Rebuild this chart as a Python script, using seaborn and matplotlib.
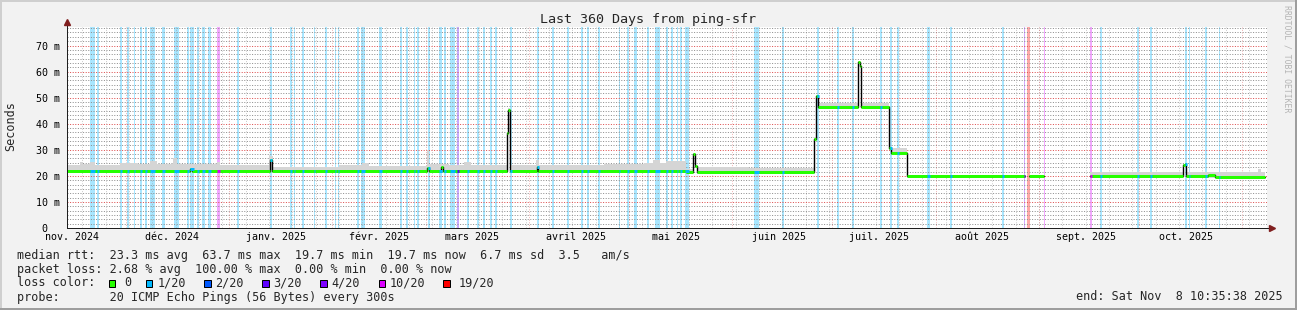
import numpy as np
import pandas as pd
import matplotlib
matplotlib.use("Agg")
import matplotlib.pyplot as plt
from matplotlib.patches import Rectangle
import seaborn as sns
from datetime import datetime, timedelta

sns.set_theme(style="white")
plt.rcParams["font.family"] = ["DejaVu Sans Mono", "DejaVu Sans"]

nan = float("nan")

# ---------------- data ----------------
START = datetime(2024, 11, 13, 10, 35, 38)
SPAN_DAYS = 360.0

# median RTT (ms), step series: value holds from day[i] to day[i+1]; nan = no data
med_day = [0.0, 36.9, 37.35, 60.9, 61.5, 108.0, 108.45, 112.2, 112.65,
           131.85, 132.3, 132.9, 140.85, 141.3, 185.7, 187.9, 188.4, 188.9,
           224.2, 224.7, 225.3, 237.3, 237.75, 238.2, 246.7, 247.2, 251.9,
           287.45, 288.45, 293.1, 306.9, 334.9, 335.25, 335.55, 342.3, 344.4, 359.4]
med_ms = [22.0, 22.8, 22.0, 26.0, 22.0, 23.0, 22.0, 23.3, 22.0,
          36.6, 45.4, 22.0, 23.5, 22.0, 21.4, 28.3, 23.8, 21.5,
          34.3, 50.5, 46.5, 63.7, 62.0, 46.5, 30.5, 28.8, 19.9,
          nan, 19.9, nan, 20.0, 24.1, 24.5, 20.0, 20.3, 19.7, 19.7]

# smoke (ping spread) envelope, step series
smoke_day = [0.0, 3.9, 4.8, 6.9, 8.4, 15.9, 21.0, 24.9, 27.0, 31.8, 33.0, 45.0, 45.9,
             51.9, 60.6, 61.8, 81.6, 88.5, 90.6, 108.0, 108.6, 114.6, 119.1, 121.2,
             131.4, 131.85, 132.3, 132.9, 140.7, 141.6, 149.1, 161.1, 173.1, 175.8,
             177.9, 179.7, 185.7, 187.9, 188.4, 188.9, 204.6, 224.2, 224.7, 225.3,
             237.3, 237.75, 238.2, 246.7, 247.2, 251.9, 287.45, 288.45, 293.1, 306.9,
             334.9, 335.55, 357.3, 358.2, 359.4]
smoke_hi = [24.1, 25.3, 24.4, 25.4, 24.3, 24.8, 24.4, 25.6, 24.4, 26.9, 24.5, 25.2, 24.3,
            24.1, 27.8, 23.5, 24.1, 24.8, 23.8, 29.8, 24.5, 24.1, 25.4, 24.1,
            24.0, 37.0, 46.0, 24.0, 26.0, 24.1, 24.3, 24.6, 25.0, 26.0,
            25.0, 25.8, 22.8, 28.8, 24.3, 23.5, 23.0, 34.8, 51.0, 47.9,
            64.2, 62.5, 47.9, 31.0, 30.5, 21.2, nan, 21.2, nan, 21.3,
            24.6, 21.3, 22.8, 21.3, 21.3]
smoke_lo = [21.4, 21.4, 21.4, 21.4, 21.4, 21.4, 21.4, 21.4, 21.4, 21.4, 21.4, 21.4, 21.4,
            21.4, 21.4, 21.4, 21.4, 21.4, 21.4, 21.4, 21.4, 21.4, 21.4, 21.4,
            21.4, 36.0, 44.5, 21.4, 21.4, 21.4, 21.4, 21.4, 21.4, 21.4,
            21.4, 21.4, 20.9, 27.6, 23.2, 20.9, 20.9, 33.8, 50.0, 46.0,
            63.0, 61.5, 46.0, 30.0, 28.2, 18.8, nan, 18.8, nan, 19.1,
            23.8, 19.1, 19.1, 19.1, 19.1]

# loss levels
loss_labels = ["0", "1/20", "2/20", "3/20", "4/20", "10/20", "19/20"]
loss_colors = ["#26ff00", "#00b8ff", "#0059ff", "#5e00ff", "#7e00ff", "#dd00ff", "#ff0000"]

# packet-loss background bands: start day, end day, loss level index
band_start = [6.9, 9.0, 15.9, 18.0, 20.1, 21.9, 23.4, 24.9, 28.5, 32.1, 36.0, 36.9, 39.0,
              40.5, 42.3, 45.0, 51.0, 60.9, 66.9, 68.1, 70.5, 74.1, 77.4, 80.25, 81.15,
              87.0, 88.2, 93.6, 99.9, 101.7, 104.1, 105.0, 108.3, 111.6, 113.1, 114.9,
              117.0, 120.0, 123.0, 124.8, 126.9, 128.4, 132.9, 141.0, 145.5, 150.0,
              154.2, 156.0, 159.3, 165.6, 168.0, 170.1, 174.0, 176.4, 179.7, 181.2,
              183.0, 183.9, 185.4, 206.1, 214.5, 225.0, 231.0, 235.5, 243.9, 246.9,
              249.0, 258.0, 264.9, 280.5, 287.1, 288.0, 293.1, 306.9, 309.9, 321.0,
              324.9, 335.4, 336.6, 341.4, 345.6]
band_end = [8.4, 9.6, 16.5, 18.6, 20.4, 22.5, 24.0, 26.4, 29.4, 33.6, 36.6, 38.1, 39.6,
            41.4, 43.2, 45.9, 51.6, 61.5, 67.5, 68.4, 71.1, 74.4, 78.0, 80.55, 81.6,
            87.6, 89.4, 94.5, 100.5, 102.3, 104.4, 105.6, 108.9, 112.5, 113.7, 116.4,
            117.6, 120.6, 123.6, 125.4, 127.5, 129.0, 133.5, 141.6, 146.1, 150.6,
            154.8, 156.6, 159.9, 165.9, 168.6, 171.0, 174.6, 177.9, 180.3, 181.8,
            183.3, 184.5, 186.6, 207.6, 215.1, 225.6, 231.6, 236.1, 244.5, 247.5,
            249.6, 258.9, 265.5, 281.1, 287.4, 288.9, 293.4, 307.5, 310.5, 321.6,
            325.5, 336.0, 336.9, 342.0, 345.9]
band_loss = [1, 1, 1, 1, 1, 1, 1, 1, 1, 1, 1, 1, 1,
             1, 1, 5, 1, 1, 1, 1, 1, 1, 1, 1, 1,
             1, 1, 1, 1, 1, 1, 1, 1, 1, 1, 1,
             3, 1, 1, 1, 1, 1, 1, 1, 1, 1,
             1, 1, 1, 1, 1, 1, 1, 1, 1, 1,
             1, 1, 1, 1, 1, 1, 1, 1, 1, 1,
             1, 1, 1, 1, 4, 6, 5, 5, 1, 1,
             1, 1, 1, 1, 1]

month_labels = ["nov. 2024", "déc. 2024", "janv. 2025", "févr. 2025", "mars 2025",
                "avril 2025", "mai 2025", "juin 2025", "juil. 2025", "août 2025",
                "sept. 2025", "oct. 2025"]
month_firsts = [(2024, 11), (2024, 12), (2025, 1), (2025, 2), (2025, 3), (2025, 4),
                (2025, 5), (2025, 6), (2025, 7), (2025, 8), (2025, 9), (2025, 10),
                (2025, 11)]
y_ticks = [0, 10, 20, 30, 40, 50, 60, 70]
y_ticklabels = ["0  ", "10 m", "20 m", "30 m", "40 m", "50 m", "60 m", "70 m"]

title = "Last 360 Days from ping-sfr"
stats_rtt = "median rtt:  23.3 ms avg  63.7 ms max  19.7 ms min  19.7 ms now  6.7 ms sd  3.5   am/s"
stats_loss = "packet loss: 2.68 % avg  100.00 % max  0.00 % min  0.00 % now"
probe_txt = "probe:       20 ICMP Echo Pings (56 Bytes) every 300s"
end_txt = "end: Sat Nov  8 10:35:38 2025"

# ---------------- helpers ----------------
def day_of(dt):
    return (dt - START).total_seconds() / 86400.0

month_days = [day_of(datetime(y, m, 1)) for y, m in month_firsts]
first_monday = datetime(2024, 11, 18)
week_days = []
d = first_monday
while day_of(d) < SPAN_DAYS:
    week_days.append(day_of(d))
    d += timedelta(days=7)

# ---------------- figure ----------------
W, H = 1297, 310
BG = "#f2f2f2"
fig = plt.figure(figsize=(W / 100, H / 100), dpi=100, facecolor=BG)
ax = fig.add_axes([67 / W, (H - 228) / H, 1200 / W, 201 / H])
ax.set_facecolor("white")
ax.set_xlim(0, SPAN_DAYS)
ax.set_ylim(0, 77.1)

PX = 0.72  # one pixel in points

# loss bands
for s, e, l in zip(band_start, band_end, band_loss):
    ax.axvspan(s, e, color=loss_colors[l], alpha=0.34, lw=0, zorder=1)

# grid
ax.set_axisbelow("line")
dots = (0, (1.0, 1.6))
minor_c = (0.56, 0.56, 0.56, 0.45)
major_c = (0.87, 0.31, 0.31, 0.42)
ax.vlines(week_days, 0, 1, transform=ax.get_xaxis_transform(),
          colors=[minor_c], linestyles=[dots], lw=PX, zorder=1.5)
ax.vlines(month_days, 0, 1, transform=ax.get_xaxis_transform(),
          colors=[major_c], linestyles=[dots], lw=PX, zorder=1.55)
minor_y = [v * 10.0 / 6.0 for v in range(1, 47) if v % 6 != 0]
ax.set_yticks(y_ticks)
ax.set_yticklabels(y_ticklabels)
ax.set_yticks(minor_y, minor=True)
ax.yaxis.grid(True, which="minor", color=minor_c, linestyle=dots, lw=PX)
ax.yaxis.grid(True, which="major", color=major_c, linestyle=dots, lw=PX)
ax.xaxis.grid(False)

# smoke
ax.fill_between(np.array(smoke_day), np.array(smoke_lo), np.array(smoke_hi),
                step="post", color="#d5d5d5", lw=0, zorder=1.8)

# median: black step line (shows the vertical transitions)
rows = []
seg = 0
prev = None
for dd, v in zip(med_day, med_ms):
    if np.isnan(v):
        rows.append((dd, prev, seg))
        seg += 1
    else:
        rows.append((dd, v, seg))
    prev = v
med_df = pd.DataFrame(rows, columns=["day", "ms", "seg"])
sns.lineplot(data=med_df, x="day", y="ms", units="seg", estimator=None,
             color="black", lw=1.0, drawstyle="steps-post", legend=False,
             ax=ax, zorder=3)

# median coloured by loss (horizontal parts)
hx0, hx1, hy = [], [], []
for i in range(len(med_df) - 1):
    if med_df.seg[i] == med_df.seg[i + 1]:
        hx0.append(med_df.day[i]); hx1.append(med_df.day[i + 1]); hy.append(med_df.ms[i])
ax.hlines(hy, hx0, hx1, colors=loss_colors[0], lw=3 * PX, zorder=4)

med_arr_day = np.array(med_day)
med_arr = np.array(med_ms)
for s, e, l in zip(band_start, band_end, band_loss):
    idx = np.searchsorted(med_arr_day, s, side="right") - 1
    v = med_arr[idx]
    if not np.isnan(v):
        ax.hlines(v, s, e, colors=loss_colors[l], lw=3 * PX, zorder=5)

# axes styling
axis_c = "#1f1f1f"
arrow_c = "#801f1f"
for sp in ["top", "right"]:
    ax.spines[sp].set_visible(False)
for sp in ["left", "bottom"]:
    ax.spines[sp].set_color(axis_c)
    ax.spines[sp].set_linewidth(PX)
    ax.spines[sp].set_zorder(6)
ax.plot([1, 1 + 4 / 1200], [0, 0], transform=ax.transAxes, clip_on=False, color=axis_c, lw=PX)
ax.plot([1 + 5 / 1200], [0], transform=ax.transAxes, clip_on=False, marker=">",
        ms=5, color=arrow_c, mec=arrow_c, lw=0)
ax.plot([0, 0], [1, 1 + 4 / 201], transform=ax.transAxes, clip_on=False, color=axis_c, lw=PX)
ax.plot([0], [1 + 5 / 201], transform=ax.transAxes, clip_on=False, marker="^",
        ms=5, color=arrow_c, mec=arrow_c, lw=0)

ax.set_xticks([md + 14 for md in month_days[:12]])
ax.set_xticklabels(month_labels)
ax.tick_params(axis="both", which="both", length=0, labelsize=7.2, colors="black")
ax.tick_params(axis="y", pad=5)
ax.tick_params(axis="x", pad=3)
ax.set_xlabel("")
ax.set_ylabel("")

# texts
def fy(ypx):
    return (H - ypx) / H

fig.text(648.5 / W, fy(19), title, ha="center", va="center", fontsize=9.6)
fig.text(11 / W, fy(126), "Seconds", rotation=90, ha="center", va="center", fontsize=8.5)
fig.text(1287 / W, fy(59), "RRDTOOL / TOBI OETIKER", rotation=270, ha="center",
         va="center", fontsize=5.9, color="#b4b4b4")

LX = 16.6
CW = 7.1
fig.text(LX / W, fy(255), stats_rtt, ha="left", va="center", fontsize=8.5)
fig.text(LX / W, fy(269), stats_loss, ha="left", va="center", fontsize=8.5)
fig.text(LX / W, fy(283), "loss color:", ha="left", va="center", fontsize=8.5)
box_cols = [12.97, 18.2, 26.4, 34.6, 42.8, 51.0, 60.1]
lab_cols = [15.1, 19.9, 28.0, 36.1, 44.3, 52.5, 62.2]
for lab, col, bc, lc in zip(loss_labels, loss_colors, box_cols, lab_cols):
    bx = LX + bc * CW
    fig.add_artist(Rectangle((bx / W, fy(287)), 6.5 / W, 7.5 / H, transform=fig.transFigure,
                             facecolor=col, edgecolor="black", lw=PX))
    fig.text((LX + lc * CW) / W, fy(283), lab, ha="left", va="center", fontsize=8.5)
fig.text(LX / W, fy(297), probe_txt, ha="left", va="center", fontsize=8.5)
fig.text(1283 / W, fy(297), end_txt, ha="right", va="center", fontsize=8.5)

# 3D-ish frame
fig.add_artist(Rectangle((0, 0), 2 / W, 1, transform=fig.transFigure, color="#cfcfcf", lw=0))
fig.add_artist(Rectangle((0, 1 - 2 / H), 1, 2 / H, transform=fig.transFigure, color="#cfcfcf", lw=0))
fig.add_artist(Rectangle((1 - 2 / W, 0), 2 / W, 1, transform=fig.transFigure, color="#9e9e9e", lw=0))
fig.add_artist(Rectangle((0, 0), 1, 2 / H, transform=fig.transFigure, color="#9e9e9e", lw=0))

fig.savefig("out.png", dpi=100, facecolor=BG)
